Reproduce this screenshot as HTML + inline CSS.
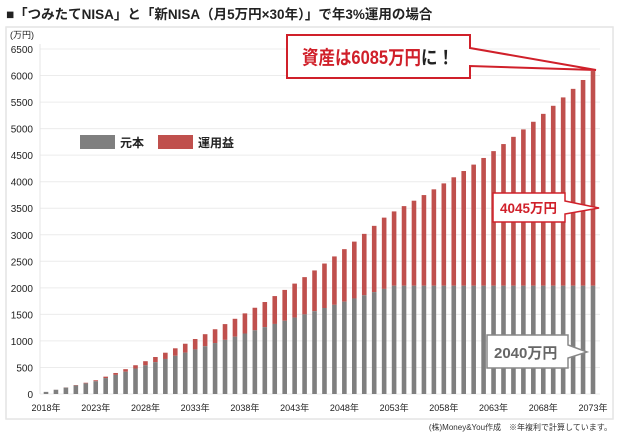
<!DOCTYPE html>
<html><head><meta charset="utf-8"><style>
body{margin:0;background:#fff;font-family:"Liberation Sans","Noto Sans CJK JP",sans-serif;}
svg text{font-family:"Liberation Sans","Noto Sans CJK JP",sans-serif;}
</style></head><body>
<svg id="c" width="620" height="438" viewBox="0 0 620 438">
<text x="6" y="19" font-size="13.5" font-weight="bold" fill="#222">■「つみたてNISA」と「新NISA（月5万円×30年）」で年3%運用の場合</text>
<rect x="6" y="27" width="607" height="392" fill="none" stroke="#e4e4e4" stroke-width="1.5"/>
<text x="10" y="38" font-size="9" fill="#222">(万円)</text>
<g id="grid"></g><g id="bars"></g><g id="xl"></g>
<g>
<rect x="80" y="135" width="35" height="14" fill="#7f7f7f"/>
<text x="120" y="147" font-size="12" font-weight="bold" fill="#222">元本</text>
<rect x="158" y="135" width="35" height="14" fill="#c0504d"/>
<text x="198" y="147" font-size="12" font-weight="bold" fill="#222">運用益</text>
</g>
<g>
<path d="M287,35 H470 V48 L596,70 L470,66 V78 H287 Z" fill="#fff" stroke="#d0202a" stroke-width="2"/>
<text x="302" y="64" font-size="19" font-weight="bold" fill="#d0202a" textLength="152" lengthAdjust="spacingAndGlyphs">資産は6085万円<tspan fill="#222">に！</tspan></text>
</g>
<g>
<path d="M493,193 H565 V201 L599,208 L565,214 V222 H493 Z" fill="#fff" stroke="#d0202a" stroke-width="1.5"/>
<text x="500" y="213" font-size="13.5" font-weight="bold" fill="#d0202a">4045万円</text>
</g>
<g>
<path d="M487,335 H568 V345 L587,352 L568,358 V368 H487 Z" fill="#fff" stroke="#888" stroke-width="1.5"/>
<text x="494" y="358" font-size="15" font-weight="bold" fill="#666">2040万円</text>
</g>
<text x="612" y="430" font-size="8" fill="#333" text-anchor="end">(株)Money&amp;You作成　※年複利で計算しています。</text>
</svg>
<script>
const years=[2018,2019,2020,2021,2022,2023,2024,2025,2026,2027,2028,2029,2030,2031,2032,2033,2034,2035,2036,2037,2038,2039,2040,2041,2042,2043,2044,2045,2046,2047,2048,2049,2050,2051,2052,2053,2054,2055,2056,2057,2058,2059,2060,2061,2062,2063,2064,2065,2066,2067,2068,2069,2070,2071,2072,2073];
const principal=[40,80,120,160,200,240,300,360,420,480,540,600,660,720,780,840,900,960,1020,1080,1140,1200,1260,1320,1380,1440,1500,1560,1620,1680,1740,1800,1860,1920,1980,2040,2040,2040,2040,2040,2040,2040,2040,2040,2040,2040,2040,2040,2040,2040,2040,2040,2040,2040,2040,2040];
const totals=[40,81,124,167,212,259,327,396,468,542,618,697,778,861,947,1036,1127,1220,1317,1417,1519,1625,1733,1845,1961,2080,2202,2328,2458,2592,2729,2871,3017,3168,3323,3440,3540,3642,3748,3856,3968,4083,4201,4322,4447,4576,4709,4845,4985,5129,5278,5430,5588,5749,5916,6085];
const yTicks=[0,500,1000,1500,2000,2500,3000,3500,4000,4500,5000,5500,6000,6500];
const xLabelYears=[2018,2023,2028,2033,2038,2043,2048,2053,2058,2063,2068,2073];
const NS='http://www.w3.org/2000/svg';
const y0=394,yTop=49,yMax=6500,x0=46,x1=593;
function ys(v){return y0-(v/yMax)*(y0-yTop);}
function xs(i){return x0+i*(x1-x0)/(years.length-1);}
function mk(t,a,p){const e=document.createElementNS(NS,t);for(const k in a)e.setAttribute(k,a[k]);p.appendChild(e);return e;}
const g=document.getElementById('grid');
yTicks.forEach(v=>{
 const l=mk('line',{x1:40,x2:600,y1:ys(v),y2:ys(v),stroke:'#ececec','stroke-width':1},g);
 
 
 const t=mk('text',{x:33,y:ys(v)+4,'font-size':10,fill:'#222','text-anchor':'end'},g);
 t.textContent=v;
 
 
});
mk('line',{x1:40,x2:40,y1:44,y2:y0,stroke:'#e4e4e4','stroke-width':1},g);
const b=document.getElementById('bars');
years.forEach((yr,i)=>{
 const w=4.6,x=xs(i)-w/2;
 const r1=mk('rect',{x:x,y:ys(totals[i]),width:w,height:ys(principal[i])-ys(totals[i]),fill:'#c0504d'},b);
 
 
 const r2=mk('rect',{x:x,y:ys(principal[i]),width:w,height:y0-ys(principal[i]),fill:'#7f7f7f'},b);
 
 
});
const xl=document.getElementById('xl');
xLabelYears.forEach(yr=>{
 const i=years.indexOf(yr);
 const t=mk('text',{x:xs(i),y:411,'font-size':9,fill:'#222','text-anchor':'middle'},xl);
 t.textContent=yr+'年';
 
 
});
</script>
</body></html>
